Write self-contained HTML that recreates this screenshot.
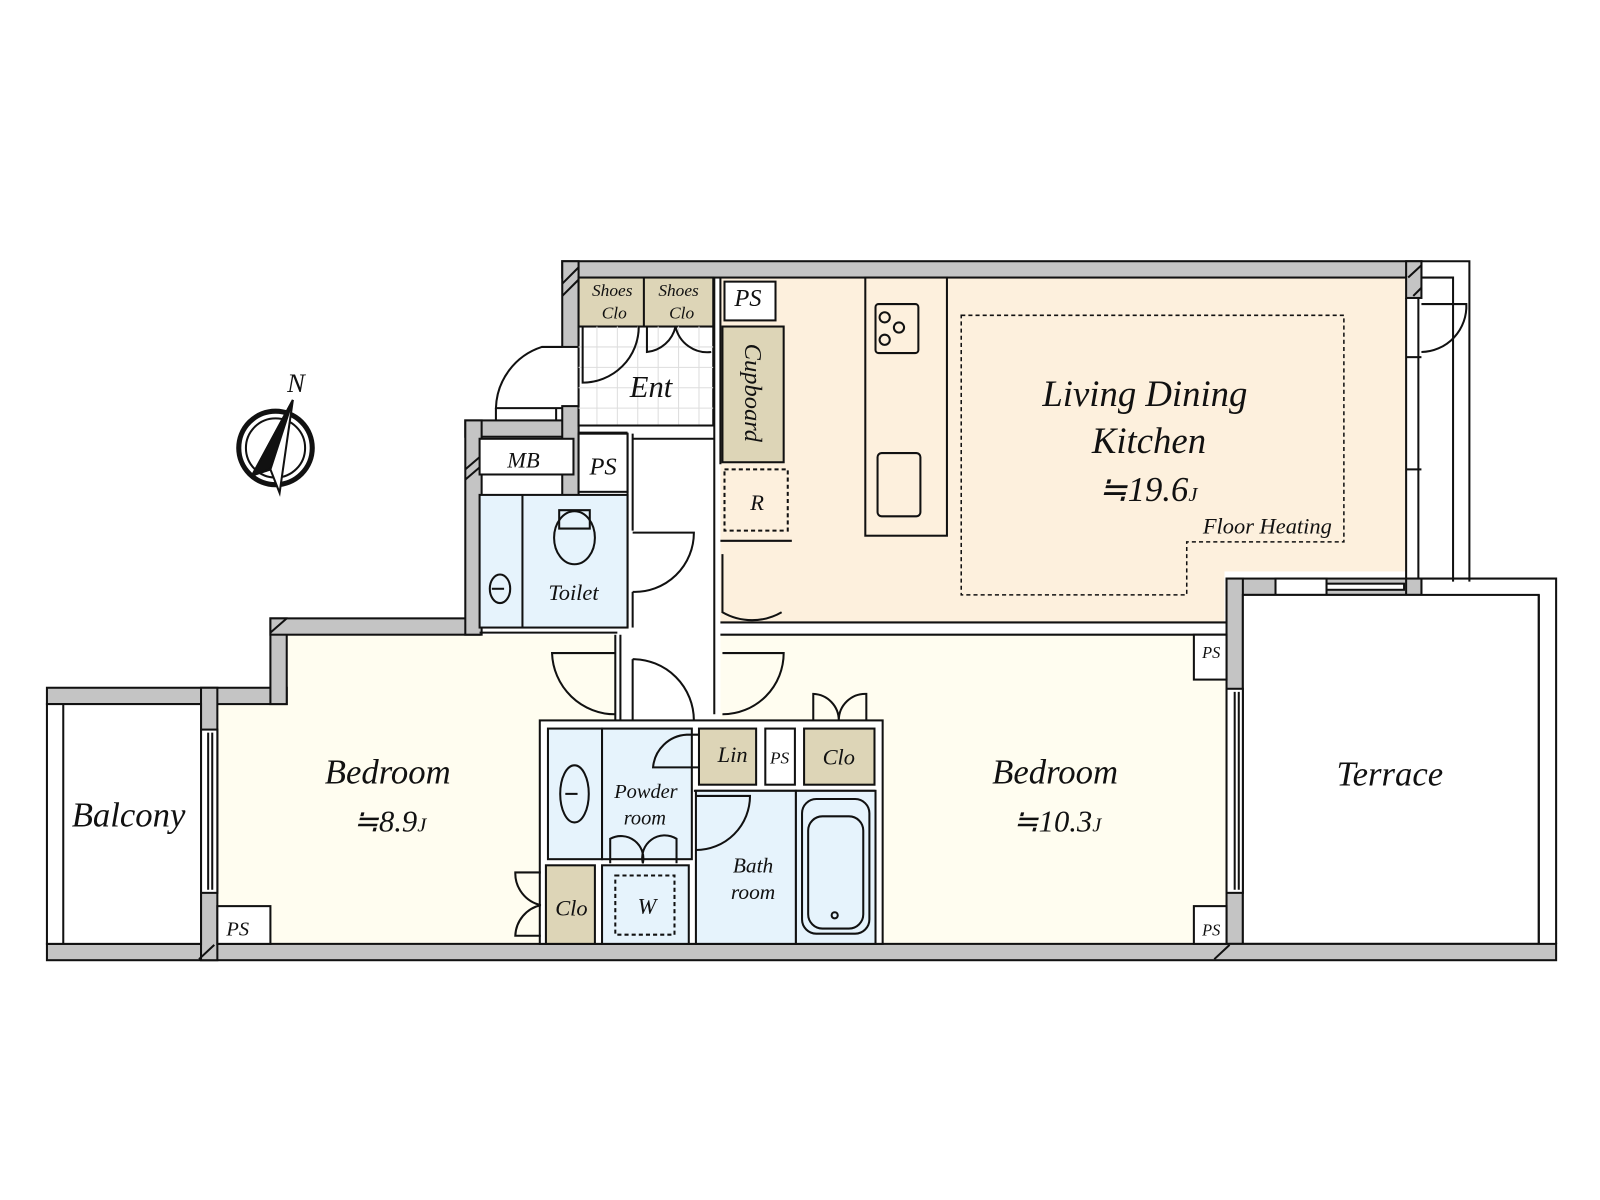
<!DOCTYPE html>
<html><head><meta charset="utf-8"><style>
html,body{margin:0;padding:0;background:#fff}
svg{display:block}
text{font-family:"Liberation Serif",serif;font-style:italic;fill:#111}
</style></head><body>
<svg width="1600" height="1200" viewBox="0 0 1568 1176" xmlns="http://www.w3.org/2000/svg">
<g stroke="#111" stroke-width="2" fill="none">
<rect x="706" y="272" width="672" height="338" fill="#fdf0dd" stroke="none"/>
<rect x="1200" y="560" width="180" height="52" fill="#fff" stroke="none"/>
<rect x="281" y="622" width="322" height="303" fill="#fffdf0" stroke="none"/>
<rect x="213" y="690" width="80" height="235" fill="#fffdf0" stroke="none"/>
<rect x="706" y="622" width="496" height="303" fill="#fffdf0" stroke="none"/>
<rect x="551" y="256" width="842" height="16" fill="#c4c4c4"/>
<rect x="551" y="256" width="16" height="84" fill="#c4c4c4"/>
<rect x="1378" y="256" width="15" height="36" fill="#c4c4c4"/>
<path d="M1393 256 H1440 V570 M1393 272 H1424 V570"/>
<line x1="1378" y1="292" x2="1378" y2="570"/>
<line x1="1390" y1="292" x2="1390" y2="570"/>
<line x1="1378" y1="350" x2="1393" y2="350"/>
<line x1="1378" y1="460" x2="1393" y2="460"/>
<path d="M1393 298 H1437 A45 45 0 0 1 1393 345"/>
<rect x="1202" y="567" width="191" height="16" fill="#c4c4c4"/>
<rect x="1202" y="567" width="16" height="358" fill="#c4c4c4"/>
<rect x="1378" y="567" width="15" height="16" fill="#c4c4c4"/>
<rect x="1250" y="567" width="50" height="16" fill="#fff"/>
<rect x="1300" y="572" width="76" height="6" fill="#fff"/>
<path d="M1255 583 V628 A44 44 0 0 0 1297 583"/>
<rect x="1218" y="583" width="290" height="342" fill="#fff"/>
<path d="M1393 567 H1525 V925 M1508 583 V925"/>
<rect x="1202" y="675" width="16" height="200" fill="#fff"/>
<line x1="1210" y1="678" x2="1210" y2="872"/>
<line x1="1214" y1="678" x2="1214" y2="872"/>
<rect x="46" y="925" width="1479" height="16" fill="#c4c4c4"/>
<rect x="46" y="674" width="235" height="16" fill="#c4c4c4"/>
<rect x="265" y="606" width="16" height="84" fill="#c4c4c4"/>
<rect x="265" y="606" width="205" height="16" fill="#c4c4c4"/>
<rect x="197" y="674" width="16" height="267" fill="#c4c4c4"/>
<rect x="197" y="715" width="16" height="160" fill="#fff"/>
<line x1="204" y1="718" x2="204" y2="872"/>
<line x1="208" y1="718" x2="208" y2="872"/>
<rect x="46" y="690" width="151" height="235" fill="#fff"/>
<line x1="62" y1="690" x2="62" y2="925"/>
<rect x="456" y="412" width="111" height="16" fill="#c4c4c4"/>
<rect x="456" y="412" width="16" height="210" fill="#c4c4c4"/>
<rect x="551" y="398" width="16" height="90" fill="#c4c4c4"/>
<rect x="470" y="430" width="92" height="35" fill="#fff"/>
<rect x="567" y="425" width="48" height="57" fill="#fff"/>
<rect x="470" y="485" width="145" height="130" fill="#e6f3fc"/>
<line x1="512" y1="485" x2="512" y2="615"/>
<line x1="615" y1="425" x2="615" y2="615"/>
<line x1="620" y1="425" x2="620" y2="520"/>
<line x1="620" y1="580" x2="620" y2="615"/>
<line x1="470" y1="620" x2="605" y2="620"/>
<path d="M548 500 h30 v18 h-30z"/>
<ellipse cx="563" cy="527" rx="20" ry="26"/>
<ellipse cx="490" cy="577" rx="10" ry="14"/>
<line x1="482" y1="577" x2="494" y2="577"/>
<path d="M620 522 H680 A58 58 0 0 1 620 580"/>
<rect x="567" y="272" width="132" height="48" fill="#ddd5b7"/>
<line x1="631" y1="272" x2="631" y2="320"/>
<rect x="567" y="320" width="132" height="97" fill="#fff"/>
<g stroke="#ddd" stroke-width="1">
<path d="M567 340H699M567 360H699M567 380H699M567 400H699M585 320V417M605 320V417M625 320V417M645 320V417M665 320V417M685 320V417"/>
</g>
<line x1="567" y1="417" x2="700" y2="417"/>
<line x1="567" y1="424" x2="615" y2="424"/>
<line x1="620" y1="430" x2="700" y2="430"/>
<path d="M571 320 V375 A55 55 0 0 0 626 320"/>
<path d="M634 320 V345 A32 32 0 0 0 662 320 A32 32 0 0 0 697 345"/>
<path d="M551 340 H531 A65 65 0 0 0 486 400 H551"/>
<line x1="486" y1="400" x2="486" y2="412"/>
<line x1="545" y1="400" x2="545" y2="412"/>
<line x1="700" y1="272" x2="700" y2="700"/>
<line x1="706" y1="272" x2="706" y2="455"/>
<rect x="710" y="276" width="50" height="38" fill="#fff"/>
<rect x="708" y="320" width="60" height="133" fill="#ddd5b7"/>
<rect x="710" y="460" width="62" height="60" fill="#fdf0dd" stroke-dasharray="4 3"/>
<line x1="706" y1="530" x2="776" y2="530"/>
<path d="M708 543 V600 A58 58 0 0 0 766 600" />
<line x1="706" y1="610" x2="1202" y2="610"/>
<line x1="706" y1="622" x2="1202" y2="622"/>
<rect x="848" y="272" width="80" height="253" fill="#fdf0dd"/>
<rect x="858" y="298" width="42" height="48" rx="3"/>
<circle cx="867" cy="311" r="5"/><circle cx="881" cy="321" r="5"/><circle cx="867" cy="333" r="5"/>
<rect x="860" y="444" width="42" height="62" rx="4"/>
<path d="M942 309 H1317 V531 H1163 V583 H942 Z" stroke-dasharray="4 3" stroke-width="1.5"/>
<path d="M603 640 H541 A62 62 0 0 0 603 700"/>
<line x1="603" y1="622" x2="603" y2="706"/>
<line x1="608" y1="622" x2="608" y2="706"/>
<path d="M620 646 A60 60 0 0 1 680 706 M620 646 V706"/>
<path d="M708 640 H768 A60 60 0 0 1 708 700"/>
<rect x="1170" y="622" width="32" height="44" fill="#fff"/>
<rect x="1170" y="888" width="32" height="37" fill="#fff"/>
<rect x="213" y="888" width="52" height="37" fill="#fff"/>
<rect x="529" y="706" width="336" height="219" fill="#fff"/>
<rect x="537" y="714" width="53" height="128" fill="#e6f3fc"/>
<rect x="590" y="714" width="88" height="128" fill="#e6f3fc"/>
<ellipse cx="563" cy="778" rx="14" ry="28"/>
<line x1="554" y1="778" x2="566" y2="778"/>
<rect x="685" y="714" width="56" height="55" fill="#ddd5b7"/>
<rect x="750" y="714" width="29" height="55" fill="#fff"/>
<rect x="788" y="714" width="69" height="55" fill="#ddd5b7"/>
<path d="M797 706 V680 A26 26 0 0 1 822 706 A26 26 0 0 1 849 680 V706"/>
<path d="M685 720 H673 A35 35 0 0 0 640 752 H685"/>
<line x1="680" y1="775" x2="858" y2="775"/>
<rect x="682" y="775" width="98" height="150" fill="#e6f3fc"/>
<rect x="780" y="775" width="78" height="150" fill="#e6f3fc"/>
<rect x="786" y="783" width="66" height="132" rx="14"/>
<rect x="792" y="800" width="54" height="110" rx="14"/>
<circle cx="818" cy="897" r="3"/>
<path d="M682 780 H735 A53 53 0 0 1 682 833"/>
<rect x="590" y="848" width="85" height="77" fill="#e6f3fc"/>
<rect x="603" y="858" width="58" height="58" stroke-dasharray="4 3"/>
<path d="M598 846 V822 A22 22 0 0 1 630 846 A22 22 0 0 1 663 822 V846"/>
<rect x="535" y="848" width="48" height="77" fill="#ddd5b7"/>
<path d="M530 855 H505 A32 32 0 0 0 530 887 A32 32 0 0 0 505 917 H530"/>
<path d="M265 620 L281 606 M1380 272 L1393 260 M1385 290 L1393 282 M195 940 L210 926 M1190 940 L1205 926 M456 460 L470 448 M456 470 L470 458 M551 278 L567 262 M551 290 L567 274" />
<circle cx="270" cy="439" r="36" stroke-width="5"/>
<circle cx="270" cy="439" r="29" stroke-width="2"/>
<path d="M287 392 L274 483 L265 460 L247 466 Z" fill="#fff"/>
<path d="M287 392 L247 466 L265 460 Z" fill="#111"/>
</g>
<g text-anchor="middle">
<text x="290" y="384" font-size="26">N</text>
<text x="1122" y="398" font-size="36">Living Dining</text>
<text x="1126" y="444" font-size="36">Kitchen</text>
<text x="1125" y="491" font-size="34">≒19.6<tspan font-size="20">J</tspan></text>
<text x="1242" y="523" font-size="22">Floor Heating</text>
<text x="380" y="768" font-size="34">Bedroom</text>
<text x="382" y="815" font-size="30">≒8.9<tspan font-size="20">J</tspan></text>
<text x="1034" y="768" font-size="34">Bedroom</text>
<text x="1036" y="815" font-size="30">≒10.3<tspan font-size="20">J</tspan></text>
<text x="1362" y="770" font-size="34">Terrace</text>
<text x="126" y="810" font-size="34">Balcony</text>
<text x="638" y="389" font-size="30">Ent</text>
<text x="600" y="290" font-size="17">Shoes</text>
<text x="602" y="312" font-size="17">Clo</text>
<text x="665" y="290" font-size="17">Shoes</text>
<text x="668" y="312" font-size="17">Clo</text>
<text x="733" y="300" font-size="24">PS</text>
<text transform="translate(730,385) rotate(90)" font-size="24">Cupboard</text>
<text x="742" y="500" font-size="22">R</text>
<text x="513" y="458" font-size="22">MB</text>
<text x="591" y="465" font-size="24">PS</text>
<text x="562" y="588" font-size="22">Toilet</text>
<text x="633" y="782" font-size="20">Powder</text>
<text x="632" y="808" font-size="20">room</text>
<text x="738" y="855" font-size="21">Bath</text>
<text x="738" y="881" font-size="21">room</text>
<text x="718" y="747" font-size="22">Lin</text>
<text x="764" y="748" font-size="17">PS</text>
<text x="822" y="749" font-size="22">Clo</text>
<text x="560" y="897" font-size="22">Clo</text>
<text x="634" y="895" font-size="22">W</text>
<text x="1187" y="645" font-size="16">PS</text>
<text x="1187" y="917" font-size="16">PS</text>
<text x="233" y="917" font-size="20">PS</text>
</g>
</svg>
</body></html>
